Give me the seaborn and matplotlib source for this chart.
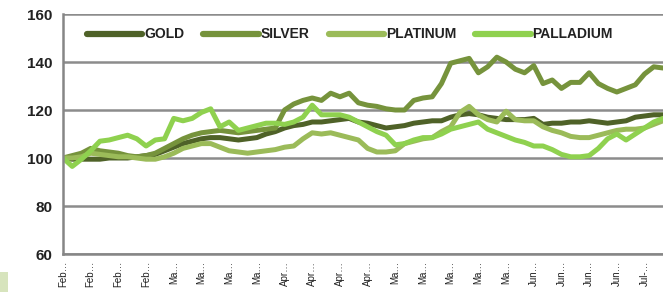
import matplotlib
matplotlib.use("Agg")
import matplotlib.pyplot as plt
import numpy as np
import pandas as pd
import seaborn as sns
from matplotlib.patches import Rectangle

# index values, base = 100
gold = [100, 99.5, 99.5, 99.5, 99.5, 100, 100, 100, 100.5, 101,
        101.5, 103, 104.5, 106, 107, 108, 108.5, 108.5, 108, 107.5,
        108, 108.5, 110, 111, 112.5, 113.5, 114, 115, 115, 115.5,
        116, 116.5, 115, 114.5, 113.5, 112.5, 113, 113.5, 114.5, 115,
        115.5, 115.5, 117, 118, 118.5, 118, 117, 116.5, 116, 116,
        116, 116.5, 114, 114.5, 114.5, 115, 115, 115.5, 115, 114.5,
        115, 115.5, 117, 117.5, 118, 118]
silver = [100, 101, 102, 104, 103, 102.5, 102, 101, 100.5, 101,
          102, 104, 106, 108, 109.5, 110.5, 111, 111.5, 111, 110.5,
          111, 111.5, 112, 112.5, 120, 122.5, 124, 125, 124, 127,
          125.5, 127, 123, 122, 121.5, 120.5, 120, 120, 124, 125,
          125.5, 131, 139.5, 140.5, 141.5, 135.5, 138, 142, 140, 137,
          135.5, 138.5, 131, 132.5, 129, 131.5, 131.5, 135.5, 131, 129,
          127.5, 129, 130.5, 135, 138, 137.5]
platinum = [100, 100, 100.5, 102, 101.5, 101, 100.5, 100.5, 100, 99.5,
            99.5, 100.5, 102, 104, 105, 106, 106, 104.5, 103, 102.5,
            102, 102.5, 103, 103.5, 104.5, 105, 108, 110.5, 110, 110.5,
            109.5, 108.5, 107.5, 104, 102.5, 102.5, 103, 106, 107, 108,
            108.5, 111, 113, 119, 121.5, 118, 116, 115, 119.5, 116,
            115.5, 115.5, 113, 111.5, 110.5, 109, 108.5, 108.5, 109.5, 110.5,
            111.5, 112, 112, 112.5, 114, 115.5]
palladium = [100, 96.5, 99.5, 103, 107, 107.5, 108.5, 109.5, 108, 105,
             107.5, 108, 116.5, 115.5, 116.5, 119, 120.5, 113, 115, 111.5,
             112.5, 113.5, 114.5, 114.5, 114, 115, 117, 122, 118, 118,
             118, 117, 115, 113, 111, 109.5, 105.5, 106, 107.5, 108.5,
             108.5, 110, 112, 113, 114, 115, 112, 110.5, 109, 107.5,
             106.5, 105, 105, 103.5, 101.5, 100.5, 100.5, 101, 104, 108,
             110, 107.5, 110, 112.5, 115, 116.5]

tick_labels = ["Feb…"] * 4 + ["Ma…"] * 4 + ["Apr…"] * 4 + ["Ma…"] * 5 + ["Jun…"] * 4 + ["Jul-…"]

names = ["GOLD", "SILVER", "PLATINUM", "PALLADIUM"]
colors = ["#4f6228", "#76933c", "#9bbb59", "#8fd14f"]

rows = []
for name, vals in zip(names, [gold, silver, platinum, palladium]):
    for i, v in enumerate(vals):
        rows.append({"day": i, "value": v, "metal": name})
df = pd.DataFrame(rows)

sns.set_style("white")
plt.rcParams['font.family'] = ['Liberation Sans', 'DejaVu Sans']
fig = plt.figure(figsize=(6.63, 2.92), dpi=100)
ax = fig.add_axes([63 / 663, 38 / 292, 600 / 663, 240 / 292])

sns.lineplot(data=df, x="day", y="value", hue="metal", hue_order=names,
             palette=colors, linewidth=3.6, ax=ax, legend=False)

ax.set_xlim(0, 65)
ax.set_ylim(60, 160)
ax.set_yticks([60, 80, 100, 120, 140, 160])
ax.set_xticks(np.arange(0, 3 * len(tick_labels), 3))
ax.set_xticklabels(tick_labels, rotation=90, fontsize=7, color="#222222")
ax.tick_params(axis="y", labelsize=11, colors="#222222", length=4, color="#868686", width=1.5)
ax.tick_params(axis="x", length=4, color="#868686", width=1.5, pad=1)
for lab in ax.get_yticklabels():
    lab.set_fontweight("bold")
ax.yaxis.grid(True, color="#8c8c8c", linewidth=1.8)
ax.set_axisbelow(True)
ax.set_xlabel("")
ax.set_ylabel("")
for s in ["top", "right"]:
    ax.spines[s].set_visible(False)
ax.spines["left"].set_color("#868686")
ax.spines["left"].set_linewidth(1.8)
ax.spines["bottom"].set_color("#868686")
ax.spines["bottom"].set_linewidth(1.8)

handles = [plt.Line2D([], [], color=c, linewidth=4.5, solid_capstyle="round") for c in colors]
leg = ax.legend(handles, names, ncol=4, loc="center", bbox_to_anchor=(0.478, 0.915),
                frameon=False, handlelength=4.0, handletextpad=0.1, columnspacing=1.4,
                prop={"size": 10, "weight": "bold"})
for t in leg.get_texts():
    t.set_color("#222222")

fig.patches.append(Rectangle((0, 0), 8 / 663, 20 / 292, transform=fig.transFigure,
                             facecolor="#d7e4bd", edgecolor="none"))

fig.savefig("out.png", dpi=100)
